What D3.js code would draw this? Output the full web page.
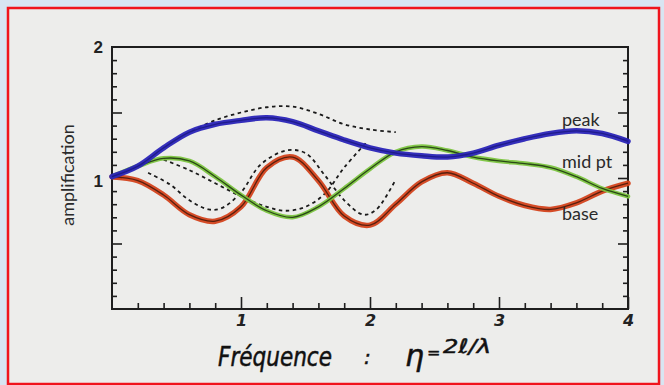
<!DOCTYPE html>
<html>
<head>
<meta charset="utf-8">
<script src="https://cdn.jsdelivr.net/npm/d3@7"></script>
<style>
  html, body { margin: 0; padding: 0; background: #d8e5f2; }
  svg { display: block; }
</style>
</head>
<body>
<svg id="chart" width="664" height="385"></svg>
<script>
// Amplification curves versus normalised frequency eta = 2l/lambda
const freq = [0, 0.2, 0.4, 0.6, 0.8, 1.0, 1.2, 1.4, 1.6, 1.8, 2.0, 2.2, 2.4, 2.6, 2.8, 3.0, 3.2, 3.4, 3.6, 3.8, 4.0];
const peak = [1.01, 1.09, 1.23, 1.35, 1.41, 1.44, 1.46, 1.43, 1.36, 1.29, 1.23, 1.19, 1.17, 1.16, 1.19, 1.25, 1.30, 1.34, 1.36, 1.34, 1.28];
const midPt = [1.01, 1.09, 1.15, 1.13, 1.01, 0.87, 0.75, 0.70, 0.78, 0.92, 1.07, 1.20, 1.24, 1.21, 1.16, 1.13, 1.11, 1.08, 1.01, 0.92, 0.86];
const base = [1.01, 0.98, 0.87, 0.72, 0.67, 0.78, 1.08, 1.16, 0.98, 0.71, 0.64, 0.80, 0.97, 1.04, 0.96, 0.86, 0.79, 0.76, 0.81, 0.90, 0.96];

// Dashed comparison curves (shorter frequency range)
const peakDashF = [0.62, 0.8, 1.0, 1.2, 1.4, 1.6, 1.8, 2.0, 2.2];
const peakDash = [1.36, 1.44, 1.50, 1.54, 1.545, 1.49, 1.41, 1.37, 1.35];
const midDashF = [0.4, 0.6, 0.8, 1.0, 1.2, 1.35, 1.5, 1.65, 1.8, 1.98];
const midDash = [1.14, 1.06, 0.96, 0.86, 0.78, 0.75, 0.78, 0.88, 1.08, 1.28];
const baseDashF = [0.28, 0.45, 0.6, 0.75, 0.85, 1.0, 1.15, 1.35, 1.5, 1.65, 1.8, 1.95, 2.05, 2.2];
const baseDash = [1.04, 0.95, 0.83, 0.76, 0.77, 0.89, 1.10, 1.21, 1.19, 1.02, 0.83, 0.72, 0.76, 0.99];

const xMajor = [1, 2, 3, 4];
const xMinor = d3.range(0.2, 4, 0.2).filter(v => Math.abs(v - Math.round(v)) > 1e-6);
const yLabels = [1, 2];
const yMajor = [0.5, 1, 1.5];
const yMinor = d3.range(0.1, 2, 0.1).filter(v => Math.abs(v * 2 - Math.round(v * 2)) > 1e-6);

const seriesLabels = [
  { text: "peak", v: 1.40 },
  { text: "mid pt", v: 1.08 },
  { text: "base", v: 0.68 }
];

const svg = d3.select("#chart");
const W = 664, H = 385;

// paper sheet with red frame
svg.append("rect").attr("x", 0).attr("y", 0).attr("width", W).attr("height", H).attr("fill", "#d8e5f2");
svg.append("rect").attr("x", 8).attr("y", 8).attr("width", 651).attr("height", 376)
  .attr("fill", "#ededeb").attr("stroke", "#f0141c").attr("stroke-width", 2.5);

const margin = { left: 112, right: 628, top: 47, bottom: 309 };
const x = d3.scaleLinear().domain([0, 4]).range([margin.left, margin.right]);
const y = d3.scaleLinear().domain([0, 2]).range([margin.bottom, margin.top]);

const axisColor = "#1e1e1e";
const axisG = svg.append("g").attr("color", axisColor);

// inward ticks on left, right and bottom sides
function styleAxis(g) {
  g.select(".domain").remove();
  g.selectAll(".tick line").attr("stroke-width", 1.6);
}
axisG.append("g").attr("transform", `translate(${margin.left},0)`)
  .call(d3.axisLeft(y).tickValues(yMinor).tickSize(-5).tickFormat("")).call(styleAxis);
axisG.append("g").attr("transform", `translate(${margin.left},0)`)
  .call(d3.axisLeft(y).tickValues(yMajor).tickSize(-10).tickFormat("")).call(styleAxis);
axisG.append("g").attr("transform", `translate(${margin.right},0)`)
  .call(d3.axisRight(y).tickValues(yMinor).tickSize(-5).tickFormat("")).call(styleAxis);
axisG.append("g").attr("transform", `translate(${margin.right},0)`)
  .call(d3.axisRight(y).tickValues(yMajor).tickSize(-10).tickFormat("")).call(styleAxis);
axisG.append("g").attr("transform", `translate(0,${margin.bottom})`)
  .call(d3.axisBottom(x).tickValues(xMinor).tickSize(-6).tickFormat("")).call(styleAxis);
axisG.append("g").attr("transform", `translate(0,${margin.bottom})`)
  .call(d3.axisBottom(x).tickValues(xMajor).tickSize(-12).tickFormat("")).call(styleAxis);

// frame
svg.append("rect")
  .attr("x", margin.left).attr("y", margin.top)
  .attr("width", margin.right - margin.left).attr("height", margin.bottom - margin.top)
  .attr("fill", "none").attr("stroke", axisColor).attr("stroke-width", 2);

// y labels
const yLab = svg.append("g")
  .attr("transform", `translate(${margin.left},0)`)
  .call(d3.axisLeft(y).tickValues(yLabels).tickSize(0).tickPadding(9).tickFormat(d3.format("d")));
yLab.select(".domain").remove();
yLab.attr("font-size", 17);
yLab.selectAll("text")
  .attr("font-family", "Liberation Sans, Arial, sans-serif")
  .attr("font-size", 17).attr("font-weight", "bold").attr("fill", "#222")
  .attr("dy", (d) => d === 1 ? "0.5em" : "0.35em");

// x labels (hand lettered style)
const xLab = svg.append("g")
  .attr("transform", `translate(0,${margin.bottom})`)
  .call(d3.axisBottom(x).tickValues(xMajor).tickSize(0).tickPadding(6).tickFormat(d3.format("d")));
xLab.select(".domain").remove();
xLab.attr("font-size", 16);
xLab.selectAll("text")
  .attr("font-family", "DejaVu Sans, sans-serif").attr("font-style", "italic")
  .attr("font-size", 16).attr("font-weight", "bold").attr("fill", "#222");

// axis titles
svg.append("text")
  .attr("transform", "translate(74,175) rotate(-90)")
  .attr("text-anchor", "middle")
  .attr("font-family", "Lato, 'Open Sans', sans-serif")
  .attr("font-size", 18).attr("fill", "#2a2a2a")
  .text("amplification");

const titleG = svg.append("g")
  .attr("font-family", "DejaVu Sans, sans-serif")
  .attr("font-style", "italic")
  .attr("fill", "#111")
  .attr("stroke", "#111").attr("stroke-width", 0.5);
titleG.append("text").attr("x", 218).attr("y", 366).attr("font-size", 26)
  .attr("textLength", 114).attr("lengthAdjust", "spacingAndGlyphs").text("Fréquence");
titleG.append("text").attr("x", 364).attr("y", 364).attr("font-size", 20).text(":");
titleG.append("text").attr("x", 405).attr("y", 366).attr("font-size", 30).text("η");
titleG.append("text").attr("x", 427).attr("y", 358).attr("font-size", 16).text("=");
titleG.append("text").attr("x", 443).attr("y", 353).attr("font-size", 20)
  .attr("textLength", 48).attr("lengthAdjust", "spacingAndGlyphs").text("2ℓ/λ");

// curves
const line = d3.line()
  .x(d => x(d[0])).y(d => y(d[1]))
  .curve(d3.curveCatmullRom.alpha(0.5));
const zip = (a, b) => a.map((v, i) => [v, b[i]]);

const plot = svg.append("g");

function solid(xs, ys, colour, width, core) {
  const pts = zip(xs, ys);
  plot.append("path").attr("d", line(pts)).attr("fill", "none")
    .attr("stroke", colour).attr("stroke-width", width)
    .attr("stroke-linecap", "round").attr("opacity", 0.95);
  if (core) {
    plot.append("path").attr("d", line(pts)).attr("fill", "none")
      .attr("stroke", core).attr("stroke-width", 1.3).attr("opacity", 0.8);
  }
}
function dashed(xs, ys) {
  plot.append("path").attr("d", line(zip(xs, ys))).attr("fill", "none")
    .attr("stroke", "#1a1a1a").attr("stroke-width", 1.8)
    .attr("stroke-dasharray", "3.5,3.5");
}

dashed(peakDashF, peakDash);
dashed(midDashF, midDash);
dashed(baseDashF, baseDash);
solid(freq, base, "#d4431c", 5.5, "#3a1408");
solid(freq, midPt, "#7cc540", 4.5, "#14280a");
solid(freq, peak, "#2a24b8", 5.5, "#1a1880");

// series labels
svg.append("g").selectAll("text").data(seriesLabels).join("text")
  .attr("x", 562).attr("y", d => y(d.v))
  .attr("font-family", "Lato, 'Open Sans', sans-serif")
  .attr("font-size", 18).attr("fill", "#2a2a2a")
  .text(d => d.text);
</script>
</body>
</html>
